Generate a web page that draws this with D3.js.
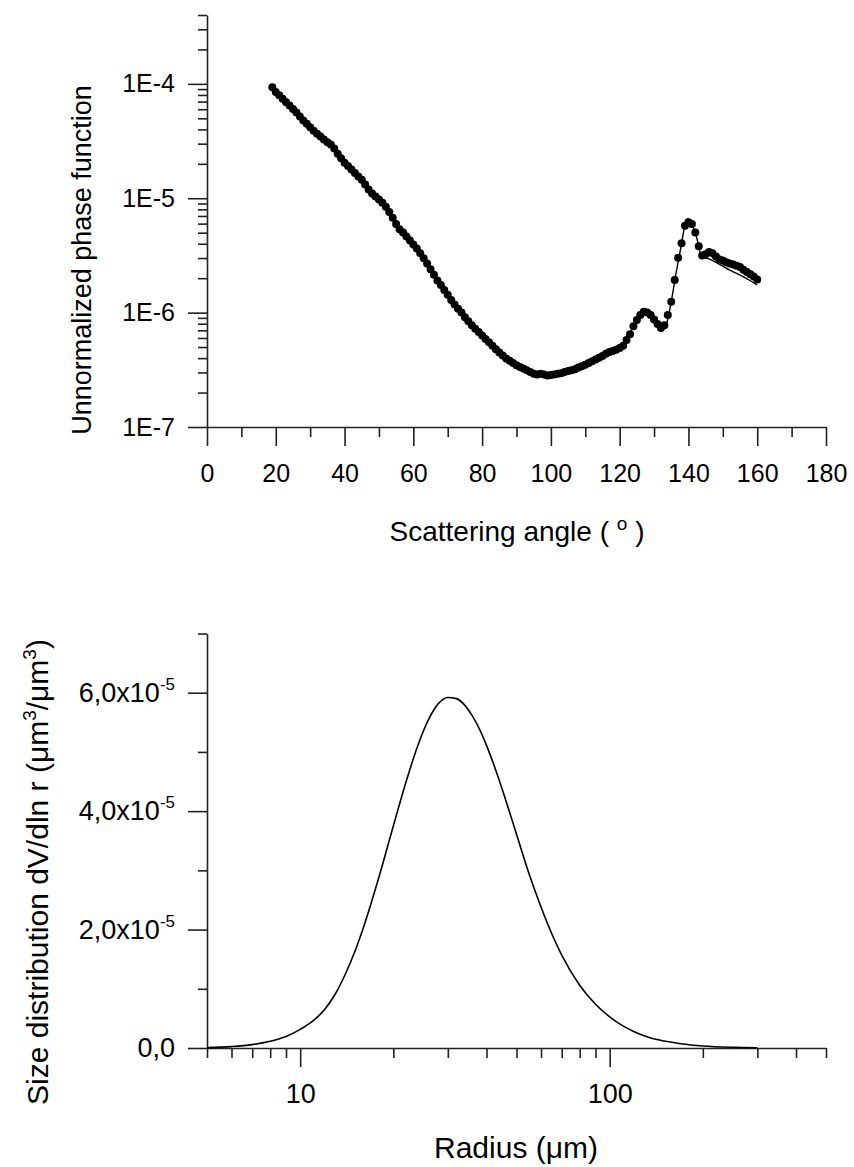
<!DOCTYPE html>
<html>
<head>
<meta charset="utf-8">
<script src="https://cdn.jsdelivr.net/npm/d3@7"></script>
<style>
  body { margin: 0; background: #fff; }
  svg text { font-family: Arial, "Liberation Sans", sans-serif; fill: #000; }
</style>
</head>
<body>
<svg id="chart" width="854" height="1167"></svg>
<script>
// --- top panel: measured phase function (dots) and fit (line)
const angles = [19,20,21,22,23,24,25,26,27,28,29,30,31,32,33,34,35,36,37,38,39,40,41,42,43,44,45,46,47,48,49,
  50,51,52,53,54,55,56,57,58,59,60,61,62,63,64,65,66,67,68,69,70,71,72,73,74,75,76,77,78,79,
  80,81,82,83,84,85,86,87,88,89,90,91,92,93,94,95,96,97,98,99,100,101,102,103,104,105,106,107,108,109,
  110,111,112,113,114,115,116,117,118,119,120,121,122,123,124,125,126,127,128,129,130,131,132,133,134,
  135,136,137,138,139,140,141,142,143,144,145,146,147,148,149,150,151,152,153,154,155,156,157,158,159,160]
const phaseObs = [9.33e-5,8.51e-5,7.94e-5,7.41e-5,6.92e-5,6.46e-5,6.03e-5,5.62e-5,5.19e-5,4.79e-5,4.47e-5,
  4.17e-5,3.89e-5,3.67e-5,3.47e-5,3.27e-5,3.09e-5,2.95e-5,2.72e-5,2.45e-5,2.24e-5,2.04e-5,1.91e-5,1.78e-5,
  1.66e-5,1.55e-5,1.45e-5,1.32e-5,1.19e-5,1.10e-5,1.035e-5,9.77e-6,9.12e-6,8.41e-6,7.59e-6,6.76e-6,5.96e-6,
  5.37e-6,5.01e-6,4.62e-6,4.27e-6,3.94e-6,3.63e-6,3.31e-6,2.99e-6,2.69e-6,2.40e-6,2.14e-6,1.91e-6,1.74e-6,
  1.58e-6,1.43e-6,1.29e-6,1.175e-6,1.08e-6,1.00e-6,9.12e-7,8.41e-7,7.76e-7,7.24e-7,6.76e-7,6.31e-7,5.89e-7,
  5.50e-7,5.13e-7,4.79e-7,4.47e-7,4.22e-7,3.98e-7,3.80e-7,3.63e-7,3.47e-7,3.35e-7,3.24e-7,3.13e-7,3.02e-7,
  2.92e-7,2.88e-7,2.92e-7,2.88e-7,2.82e-7,2.85e-7,2.88e-7,2.92e-7,2.95e-7,3.02e-7,3.09e-7,3.13e-7,3.20e-7,
  3.31e-7,3.39e-7,3.51e-7,3.63e-7,3.76e-7,3.89e-7,4.03e-7,4.17e-7,4.37e-7,4.52e-7,4.62e-7,4.73e-7,4.90e-7,
  5.13e-7,5.75e-7,6.46e-7,7.59e-7,8.61e-7,9.55e-7,1.02e-6,1.00e-6,9.55e-7,8.71e-7,7.94e-7,7.33e-7,7.76e-7,
  9.55e-7,1.245e-6,1.93e-6,3.02e-6,4.04e-6,5.75e-6,6.17e-6,5.96e-6,5.01e-6,3.80e-6,3.16e-6,3.24e-6,3.39e-6,
  3.31e-6,3.09e-6,2.92e-6,2.85e-6,2.75e-6,2.69e-6,2.63e-6,2.57e-6,2.51e-6,2.37e-6,2.26e-6,2.16e-6,2.07e-6,1.95e-6]

const fitAngles = [19,22,26,30,35,40,45,50,55,60,65,70,75,80,85,90,95,100,105,110,115,118,120,122,124,126,
  127.5,129,131,132.5,133.5,135,136.5,138,139.3,139.8,141,142.5,143.5,144.5,146,148,150,152,154,156,158,160]
const phaseFit = [9.0e-5,7.5e-5,5.7e-5,4.2e-5,3.1e-5,2.05e-5,1.45e-5,9.8e-6,5.9e-6,3.95e-6,2.4e-6,1.43e-6,
  9.1e-7,6.3e-7,4.47e-7,3.47e-7,2.95e-7,2.87e-7,3.08e-7,3.5e-7,4.15e-7,4.6e-7,4.9e-7,5.8e-7,7.6e-7,9.5e-7,
  1.01e-6,9.6e-7,8.0e-7,7.3e-7,7.8e-7,1.25e-6,2.3e-6,4.0e-6,6.4e-6,6.6e-6,5.9e-6,4.4e-6,3.3e-6,3.05e-6,
  2.95e-6,2.75e-6,2.55e-6,2.35e-6,2.2e-6,2.05e-6,1.9e-6,1.75e-6]

const angleTicks = [0,20,40,60,80,100,120,140,160,180]
const angleMinor = [10,30,50,70,90,110,130,150,170]
const phaseTicks = [1e-7,1e-6,1e-5,1e-4]
const phaseTickLabels = ["1E-7","1E-6","1E-5","1E-4"]
const phaseMinor = [2e-7,3e-7,4e-7,5e-7,6e-7,7e-7,8e-7,9e-7,2e-6,3e-6,4e-6,5e-6,6e-6,7e-6,8e-6,9e-6,
  2e-5,3e-5,4e-5,5e-5,6e-5,7e-5,8e-5,9e-5,2e-4,3e-4,4e-4]

// --- bottom panel: retrieved size distribution
const radius = [5,6,7,8,9,10,11,12,13,14,15,16,18,20,22,24,26,28,30,32,34,36,38,40,43,46,50,55,60,65,70,
  80,90,100,110,120,135,150,170,200,250,300]
const sizeDist = [0.07e-6,0.24e-6,0.57e-6,1.14e-6,1.94e-6,3.14e-6,4.58e-6,6.5e-6,9.16e-6,1.25e-5,1.62e-5,
  2.03e-5,2.9e-5,3.75e-5,4.5e-5,5.11e-5,5.55e-5,5.82e-5,5.92e-5,5.9e-5,5.79e-5,5.61e-5,5.38e-5,5.11e-5,
  4.67e-5,4.21e-5,3.61e-5,2.93e-5,2.38e-5,1.93e-5,1.57e-5,1.06e-5,7.4e-6,5.26e-6,3.77e-6,2.76e-6,1.74e-6,
  1.18e-6,0.72e-6,0.35e-6,0.125e-6,0.05e-6]

const radiusTicks = [10,100]
const radiusMinor = [5,6,7,8,9,20,30,40,50,60,70,80,90,200,300,400,500]
const distTicks = [0,2e-5,4e-5,6e-5]
const distTickLabels = [["0,0",""],["2,0x10","-5"],["4,0x10","-5"],["6,0x10","-5"]]
const distMinor = [1e-5,3e-5,5e-5,7e-5]

const svg = d3.select("#chart")
const axisColor = "#222"

function styleAxis(size) {
  return g => {
    g.attr("font-family", null).attr("font-size", size)
    g.selectAll("path, line").attr("stroke", axisColor).attr("stroke-width", 1.6)
    g.selectAll("text").attr("fill", "#000")
  }
}

// ================= top chart =================
let x1 = d3.scaleLinear().domain([0, 180]).range([207, 826])
let y1 = d3.scaleLog().domain([1e-7, 4e-4]).range([427, 15])

svg.append("g").attr("transform", "translate(0,427)")
  .call(d3.axisBottom(x1).tickValues(angleMinor).tickSize(10).tickSizeOuter(0).tickFormat(""))
  .call(styleAxis(25)).select(".domain").remove()
svg.append("g").attr("transform", "translate(0,427)")
  .call(d3.axisBottom(x1).tickValues(angleTicks).tickSize(19).tickSizeOuter(0).tickPadding(18))
  .call(styleAxis(25))

svg.append("g").attr("transform", "translate(207,0)")
  .call(d3.axisLeft(y1).tickValues(phaseMinor).tickSize(9).tickSizeOuter(0).tickFormat(""))
  .call(styleAxis(25)).select(".domain").remove()
svg.append("g").attr("transform", "translate(207,0)")
  .call(d3.axisLeft(y1).tickValues(phaseTicks).tickSize(19).tickSizeOuter(0).tickPadding(13)
    .tickFormat((d, i) => phaseTickLabels[i]))
  .call(styleAxis(25))

svg.append("g").selectAll("circle")
  .data(d3.zip(angles, phaseObs))
  .join("circle")
  .attr("cx", d => x1(d[0]))
  .attr("cy", d => y1(d[1]))
  .attr("r", 4)
  .attr("fill", "#000")

let fitLine = d3.line().x(d => x1(d[0])).y(d => y1(d[1])).curve(d3.curveMonotoneX)
svg.append("path")
  .attr("d", fitLine(d3.zip(fitAngles, phaseFit)))
  .attr("fill", "none")
  .attr("stroke", "#000")
  .attr("stroke-width", 1.4)

let t1 = svg.append("text").attr("x", 517).attr("y", 541).attr("text-anchor", "middle").attr("font-size", 28)
t1.append("tspan").text("Scattering angle ( ")
t1.append("tspan").attr("dy", -11).attr("font-size", 19).text("o")
t1.append("tspan").attr("dy", 11).text(" )")

svg.append("text")
  .attr("transform", "translate(91,260) rotate(-90)")
  .attr("text-anchor", "middle")
  .attr("font-size", 27)
  .text("Unnormalized phase function")

// ================= bottom chart =================
let x2 = d3.scaleLog().domain([5, 500]).range([207, 826])
let y2 = d3.scaleLinear().domain([0, 7e-5]).range([1048, 633.5])

svg.append("g").attr("transform", "translate(0,1048)")
  .call(d3.axisBottom(x2).tickValues(radiusMinor).tickSize(10).tickSizeOuter(0).tickFormat(""))
  .call(styleAxis(27)).select(".domain").remove()
svg.append("g").attr("transform", "translate(0,1048)")
  .call(d3.axisBottom(x2).tickValues(radiusTicks).tickSize(19).tickSizeOuter(0).tickPadding(17)
    .tickFormat(d3.format("d")))
  .call(styleAxis(27))

svg.append("g").attr("transform", "translate(207,0)")
  .call(d3.axisLeft(y2).tickValues(distMinor).tickSize(9).tickSizeOuter(0).tickFormat(""))
  .call(styleAxis(27)).select(".domain").remove()
let yAxis2 = svg.append("g").attr("transform", "translate(207,0)")
  .call(d3.axisLeft(y2).tickValues(distTicks).tickSize(19).tickSizeOuter(0).tickPadding(13))
  .call(styleAxis(27))
yAxis2.selectAll(".tick text").each(function (d, i) {
  let t = d3.select(this).text(null)
  t.append("tspan").text(distTickLabels[i][0])
  if (distTickLabels[i][1]) {
    t.append("tspan").attr("dy", -12).attr("font-size", 17).text(distTickLabels[i][1])
  }
})

let distLine = d3.line().x(d => x2(d[0])).y(d => y2(d[1])).curve(d3.curveMonotoneX)
svg.append("path")
  .attr("d", distLine(d3.zip(radius, sizeDist)))
  .attr("fill", "none")
  .attr("stroke", "#000")
  .attr("stroke-width", 1.6)

svg.append("text").attr("x", 516).attr("y", 1158).attr("text-anchor", "middle").attr("font-size", 30)
  .text("Radius (μm)")

let t2 = svg.append("text")
  .attr("transform", "translate(48,872) rotate(-90)")
  .attr("text-anchor", "middle")
  .attr("font-size", 30)
t2.append("tspan").text("Size distribution dV/dln r (μm")
t2.append("tspan").attr("dy", -12).attr("font-size", 19).text("3")
t2.append("tspan").attr("dy", 12).text("/μm")
t2.append("tspan").attr("dy", -12).attr("font-size", 19).text("3")
t2.append("tspan").attr("dy", 12).text(")")
</script>
</body>
</html>
